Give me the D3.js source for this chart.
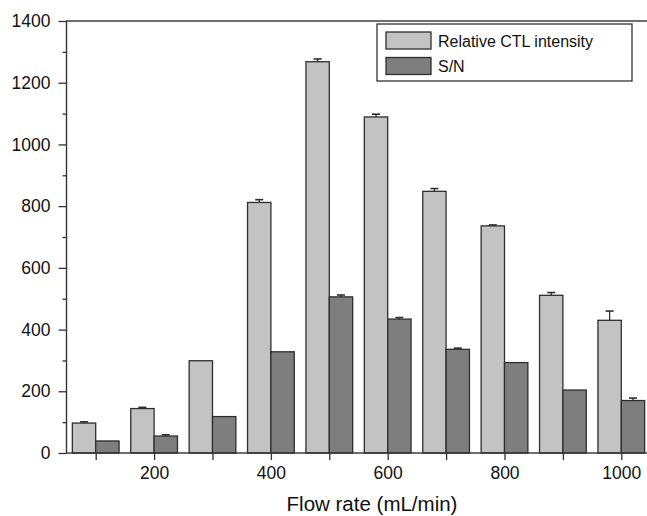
<!DOCTYPE html>
<html>
<head>
<meta charset="utf-8">
<script src="https://cdn.jsdelivr.net/npm/d3@7"></script>
<style>
  html, body { margin: 0; padding: 0; background: #fff; }
  svg { display: block; font-family: "Liberation Sans", Arial, sans-serif; }
</style>
</head>
<body>
<svg id="chart" width="647" height="516"></svg>
<script>
// flow rate categories (mL/min)
const flowRates = [100, 200, 300, 400, 500, 600, 700, 800, 900, 1000];

// Relative CTL intensity + upper error
const intensity = [97, 144, 299, 812, 1268, 1089, 848, 736, 511, 430];
const intensityErr = [4, 4, 0, 9, 9, 9, 9, 3, 9, 30];

// S/N + upper error
const snRatio = [39, 55, 118, 328, 506, 434, 336, 293, 204, 170];
const snErr = [0, 4, 0, 0, 6, 5, 4, 0, 0, 8];

const yTicks = [0, 200, 400, 600, 800, 1000, 1200, 1400];
const xTicks = [200, 400, 600, 800, 1000];

const seriesNames = ['Relative CTL intensity', 'S/N'];
const seriesColors = ['#c3c3c3', '#7e7e7e'];

const svg = d3.select('#chart');

const plot = {left: 66.5, right: 650.5, top: 21, bottom: 453};
const x = d3.scaleLinear().domain([50, 1050]).range([plot.left, plot.right]);
const y = d3.scaleLinear().domain([0, 1400]).range([plot.bottom, plot.top]);

const barW = x(40) - x(0);
const stroke = '#2e2e2e';

// bars
const series = [
  {values: intensity, err: intensityErr, color: seriesColors[0], offset: -40},
  {values: snRatio, err: snErr, color: seriesColors[1], offset: 0}
];

series.forEach(s => {
  const g = svg.append('g');
  g.selectAll('rect')
    .data(flowRates)
    .enter()
    .append('rect')
    .attr('x', (d) => x(d + s.offset))
    .attr('y', (d, i) => y(s.values[i]))
    .attr('width', barW)
    .attr('height', (d, i) => y(0) - y(s.values[i]))
    .attr('fill', s.color)
    .attr('stroke', stroke)
    .attr('stroke-width', 1.3);

  // upper error bars only
  const eb = g.selectAll('.err')
    .data(flowRates.map((d, i) => ({f: d, v: s.values[i], e: s.err[i]})).filter(d => d.e > 0))
    .enter()
    .append('g')
    .attr('class', 'err');

  eb.append('line')
    .attr('x1', d => x(d.f + s.offset + 20))
    .attr('x2', d => x(d.f + s.offset + 20))
    .attr('y1', d => y(d.v))
    .attr('y2', d => y(d.v + d.e))
    .attr('stroke', stroke)
    .attr('stroke-width', 1.3);

  eb.append('line')
    .attr('x1', d => x(d.f + s.offset + 20) - 4)
    .attr('x2', d => x(d.f + s.offset + 20) + 4)
    .attr('y1', d => y(d.v + d.e))
    .attr('y2', d => y(d.v + d.e))
    .attr('stroke', stroke)
    .attr('stroke-width', 1.6);
});

// frame
svg.append('rect')
  .attr('x', plot.left)
  .attr('y', plot.top)
  .attr('width', plot.right - plot.left)
  .attr('height', plot.bottom - plot.top)
  .attr('fill', 'none')
  .attr('stroke', '#333')
  .attr('stroke-width', 1.4);

// y axis
svg.append('g')
  .attr('transform', `translate(${plot.left},0)`)
  .call(d3.axisLeft(y).tickValues(yTicks).tickSize(8).tickPadding(8).tickFormat(d3.format('d')));
svg.append('g')
  .attr('transform', `translate(${plot.left},0)`)
  .call(d3.axisLeft(y).tickValues(d3.range(100, 1400, 200)).tickSize(4).tickFormat(''));

// x axis
svg.append('g')
  .attr('transform', `translate(0,${plot.bottom})`)
  .call(d3.axisBottom(x).tickValues(xTicks).tickSize(7).tickPadding(7).tickFormat(d3.format('d')));
svg.append('g')
  .attr('transform', `translate(0,${plot.bottom})`)
  .call(d3.axisBottom(x).tickValues(d3.range(100, 1000, 200)).tickSize(7).tickFormat(''));

svg.selectAll('.domain').remove();
svg.selectAll('.tick line').attr('stroke', '#333').attr('stroke-width', 1.3);
svg.selectAll('.tick text')
  .attr('fill', '#111')
  .style('font-size', '17.5px')
  .style('font-family', '"Liberation Sans", Arial, sans-serif');

// x title
svg.append('text')
  .attr('x', 372)
  .attr('y', 511)
  .attr('text-anchor', 'middle')
  .attr('fill', '#111')
  .style('font-size', '20.5px')
  .text('Flow rate (mL/min)');

// legend
const legend = svg.append('g');
legend.append('rect')
  .attr('x', 377)
  .attr('y', 24)
  .attr('width', 255)
  .attr('height', 57)
  .attr('fill', '#fff')
  .attr('stroke', '#333')
  .attr('stroke-width', 1.3);

const entries = legend.selectAll('.entry')
  .data(seriesNames)
  .enter()
  .append('g')
  .attr('class', 'entry')
  .attr('transform', (d, i) => `translate(386,${32 + i * 25.5})`);

entries.append('rect')
  .attr('width', 45)
  .attr('height', 17)
  .attr('fill', (d, i) => seriesColors[i])
  .attr('stroke', stroke)
  .attr('stroke-width', 1.3);

entries.append('text')
  .attr('x', 52)
  .attr('y', 14.5)
  .attr('fill', '#111')
  .style('font-size', '16px')
  .text(d => d);
</script>
</body>
</html>
